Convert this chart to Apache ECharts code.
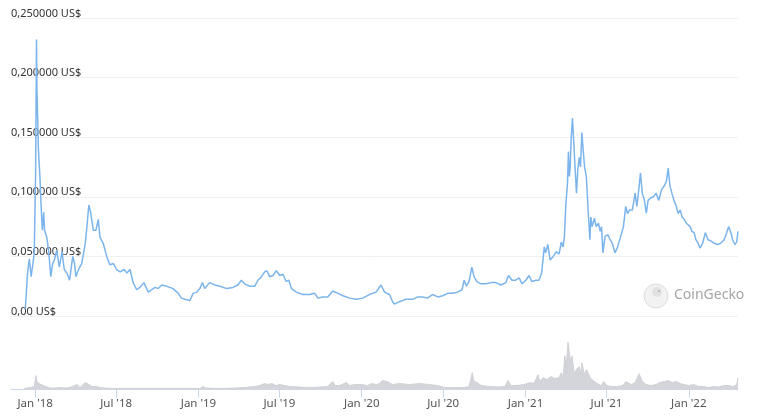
<!DOCTYPE html>
<html><head><meta charset="utf-8">
<script src="https://cdn.jsdelivr.net/npm/echarts@6/dist/echarts.min.js"></script>
<style>html,body{margin:0;padding:0;background:#fff}#c{width:759px;height:418px}</style>
</head><body><div id="c"></div>
<script>
// x values are days counted from 1 Jan 2018
const priceDays = [-22,-17,-13,-9,-5,-2,1,3,4,6,7,11,13,16,19,21,26,30,35,39,43,48,54,60,65,71,77,84,88,91,97,104,112,115,120,124,130,136,141,145,152,160,167,175,182,190,199,205,212,219,227,234,243,253,260,268,275,283,294,301,308,320,327,335,346,353,361,368,374,379,390,402,413,428,442,453,461,468,480,491,498,506,513,518,524,532,539,547,554,561,567,573,584,598,613,625,632,643,654,665,677,688,703,718,732,747,762,773,781,792,799,803,814,829,844,855,866,877,888,900,911,922,933,944,954,959,964,970,976,981,987,996,1008,1019,1030,1041,1052,1058,1066,1074,1082,1088,1097,1104,1110,1119,1126,1132,1138,1141,1146,1151,1158,1165,1171,1176,1180,1183,1186,1190,1192,1194,1196,1198,1201,1204,1207,1210,1213,1216,1219,1222,1225,1228,1232,1236,1240,1242,1245,1250,1254,1259,1263,1266,1269,1274,1280,1284,1290,1296,1302,1309,1315,1320,1324,1329,1335,1341,1345,1350,1353,1357,1362,1366,1370,1376,1382,1388,1394,1400,1406,1411,1415,1419,1424,1428,1433,1437,1442,1446,1451,1455,1459,1464,1468,1473,1477,1482,1486,1492,1498,1504,1510,1518,1525,1532,1540,1546,1550,1555,1559,1564,1568,1571];
const priceValues = [0.006,0.036,0.048,0.033,0.044,0.053,0.12,0.232,0.19,0.16,0.142,0.114,0.095,0.072,0.087,0.072,0.066,0.055,0.033,0.044,0.047,0.055,0.041,0.054,0.039,0.036,0.030,0.050,0.044,0.033,0.039,0.044,0.061,0.072,0.093,0.087,0.072,0.072,0.081,0.066,0.061,0.050,0.043,0.044,0.039,0.037,0.039,0.036,0.039,0.028,0.022,0.024,0.028,0.020,0.022,0.024,0.023,0.026,0.025,0.024,0.023,0.019,0.015,0.014,0.013,0.019,0.020,0.023,0.028,0.023,0.028,0.026,0.025,0.023,0.024,0.026,0.030,0.027,0.025,0.025,0.030,0.033,0.037,0.038,0.033,0.034,0.038,0.034,0.035,0.029,0.030,0.023,0.020,0.018,0.018,0.019,0.015,0.016,0.016,0.021,0.019,0.017,0.015,0.014,0.015,0.018,0.020,0.026,0.020,0.018,0.012,0.010,0.012,0.014,0.014,0.016,0.016,0.015,0.018,0.016,0.017,0.019,0.019,0.020,0.022,0.030,0.025,0.029,0.041,0.033,0.029,0.027,0.027,0.028,0.028,0.026,0.028,0.034,0.030,0.030,0.032,0.027,0.030,0.034,0.029,0.030,0.030,0.036,0.058,0.053,0.060,0.047,0.050,0.054,0.052,0.062,0.058,0.067,0.092,0.112,0.138,0.117,0.125,0.148,0.166,0.145,0.123,0.103,0.123,0.133,0.125,0.154,0.139,0.125,0.117,0.089,0.064,0.083,0.075,0.082,0.075,0.078,0.071,0.075,0.053,0.067,0.068,0.065,0.061,0.053,0.058,0.067,0.075,0.092,0.086,0.089,0.089,0.103,0.092,0.109,0.120,0.103,0.097,0.086,0.097,0.099,0.100,0.103,0.097,0.106,0.109,0.113,0.124,0.109,0.102,0.097,0.092,0.086,0.089,0.083,0.081,0.078,0.079,0.075,0.071,0.070,0.064,0.061,0.057,0.061,0.070,0.064,0.063,0.061,0.060,0.061,0.064,0.070,0.075,0.070,0.064,0.060,0.062,0.071];
// relative trading volume
const volumeDays = [-25,-18,-11,-2,2,4,9,13,18,22,33,45,56,67,78,94,100,112,116,120,127,136,145,156,178,212,257,301,346,368,375,381,413,446,468,491,502,513,520,529,538,547,558,569,591,613,636,654,665,671,680,696,703,714,730,743,752,763,770,776,787,799,814,836,859,881,899,915,937,959,970,977,981,988,997,1015,1037,1050,1057,1064,1077,1093,1106,1115,1124,1128,1135,1144,1153,1162,1171,1176,1180,1184,1187,1191,1196,1200,1205,1209,1216,1220,1222,1227,1233,1240,1247,1256,1265,1271,1278,1287,1300,1314,1320,1332,1341,1350,1357,1366,1376,1388,1396,1406,1415,1424,1433,1442,1450,1461,1472,1483,1494,1506,1517,1528,1539,1550,1561,1568,1571];
const volumeValues = [0.5,1.5,2,3,14,8,6,5,4,2,1.5,1.5,2,1.5,2,5,2,7,8,5,3,3,2,1.5,1,1,1,1,1,1,3,1.5,1,1.5,2,3,4,6,5,6,4,5,4,3,2.5,2,2.5,3,8,4,4,7,4,5,5,4,6,5,6,9,8,5,6,5,6,5,4,2,2,2,3,17,8,7,4,3,2.5,3,9,4,4,5,7,6,15,8,12,10,13,11,12,17,12,34,22,48,29,34,16,20,23,15,27,16,20,12,9,6,4,8,4,3,3,4,8,5,7,16,8,5,4,5,7,8,9,7,8,6,5,4,5,3,3,2,3,2.5,4,4,3,5,12];
const tickDays = [0,181,365,546,730,912,1096,1277,1461];
const tickLabels = ["Jan '18","Jul '18","Jan '19","Jul '19","Jan '20","Jul '20","Jan '21","Jul '21","Jan '22"];
const X_MIN = -54, X_MAX = 1571;

const chart = echarts.init(document.getElementById('c'), null, {renderer:'canvas'});
const priceData = priceDays.map((d,i)=>[d, priceValues[i]]);
const volData = volumeDays.map((d,i)=>[d, volumeValues[i]]);
const FONT = 'Noto Sans';
chart.setOption({
  animation:false,
  backgroundColor:'#fff',
  grid:[
    {left:11, right:21, top:18, height:298},
    {left:11, right:21, top:335, height:54.5}
  ],
  xAxis:[
    {type:'value', gridIndex:0, min:X_MIN, max:X_MAX, show:false},
    {type:'value', gridIndex:1, min:X_MIN, max:X_MAX,
     axisLine:{show:true, lineStyle:{color:'#ccd6eb', width:1}},
     axisTick:{show:true, customValues:tickDays, length:8, lineStyle:{color:'#ccd6eb'}},
     splitLine:{show:false},
     axisLabel:{customValues:tickDays, color:'#555', fontFamily:FONT, fontSize:11.5, margin:8,
       formatter:(v)=>{const i=tickDays.indexOf(Math.round(v)); return i>=0?tickLabels[i]:'';}}
    }
  ],
  yAxis:[
    {type:'value', gridIndex:0, min:0, max:0.25, interval:0.05,
     axisLine:{show:false}, axisTick:{show:false},
     splitLine:{lineStyle:{color:'#f0f0f0', width:1}},
     axisLabel:{inside:true, margin:0, color:'#333', fontFamily:FONT, fontSize:11,
       verticalAlign:'bottom', padding:[0,0,-1,0],
       formatter:(v)=> v===0 ? '0,00 US$' : v.toFixed(6).replace('.',',')+' US$'}},
    {type:'value', gridIndex:1, min:0, max:55, show:false, splitLine:{show:false}}
  ],
  graphic:[
    {type:'circle', shape:{cx:656, cy:296, r:12}, style:{fill:'#f2f2f2', stroke:'#dcdcdc', lineWidth:1}, z:1},
    {type:'circle', shape:{cx:657, cy:292, r:5}, style:{fill:'#e2e2e2'}, z:2},
    {type:'circle', shape:{cx:659, cy:291, r:1}, style:{fill:'#aaa'}, z:3},
    {type:'text', left:674, top:288, style:{text:'CoinGecko', fill:'#a6a6a6', font:'14px "Noto Sans"'}, z:2}
  ],
  series:[
    {type:'line', xAxisIndex:0, yAxisIndex:0, data:priceData, showSymbol:false, symbol:'none',
     lineStyle:{color:'#7cb5ec', width:1.5}, z:5},
    {type:'line', xAxisIndex:1, yAxisIndex:1, data:volData, showSymbol:false, symbol:'none',
     lineStyle:{color:'#cfd1d6', width:1}, areaStyle:{color:'#d3d5da', opacity:1}}
  ]
});
</script></body></html>
